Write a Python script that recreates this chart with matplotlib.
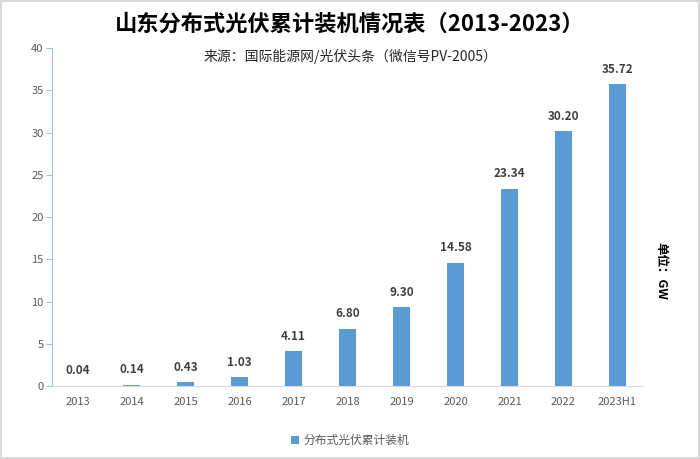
import matplotlib.pyplot as plt
from matplotlib.patches import Rectangle

plt.rcParams['font.family'] = ['Noto Sans CJK SC', 'DejaVu Sans']

# 数据
years = ['2013', '2014', '2015', '2016', '2017', '2018', '2019', '2020', '2021', '2022', '2023H1']
values = [0.04, 0.14, 0.43, 1.03, 4.11, 6.80, 9.30, 14.58, 23.34, 30.20, 35.72]
labels = ['0.04', '0.14', '0.43', '1.03', '4.11', '6.80', '9.30', '14.58', '23.34', '30.20', '35.72']

fig = plt.figure(figsize=(7, 4.59), dpi=100)
ax = fig.add_axes([0.074, 0.159, 0.845, 0.736])

bars = ax.bar(range(len(years)), values, width=0.32, color='#5B9BD5', label='分布式光伏累计装机')
for i, (v, t) in enumerate(zip(values, labels)):
    ax.text(i, max(v, 0) + 1.0, t, ha='center', va='bottom', fontsize=8.5,
            fontweight='bold', color='#404040')

ax.set_xlim(-0.48, 10.48)
ax.set_ylim(0, 40)
ax.set_yticks(range(0, 45, 5))
ax.set_xticks(range(len(years)))
ax.set_xticklabels(years)
ax.tick_params(axis='x', length=0, labelsize=8, colors='#595959', pad=8)
ax.tick_params(axis='y', length=4, labelsize=8, colors='#595959', pad=2)
ax.tick_params(axis='y', color='#9DC3E6')
for s in ['top', 'right']:
    ax.spines[s].set_visible(False)
ax.spines['left'].set_color('#9DC3E6')
ax.spines['bottom'].set_color('#D9D9D9')

fig.text(0.5, 0.948, '山东分布式光伏累计装机情况表（2013-2023）', ha='center', va='center',
         fontsize=16, fontweight='bold', color='black')
fig.text(0.5, 0.877, '来源：国际能源网/光伏头条（微信号PV-2005）', ha='center', va='center',
         fontsize=10, color='#262626')
fig.text(0.944, 0.41, '单位：GW', ha='center', va='center', rotation=270,
         fontsize=9, fontweight='bold', color='black')

fig.legend(handles=[bars], loc='center', bbox_to_anchor=(0.5, 0.04), frameon=False,
           fontsize=8.5, handlelength=0.7, handleheight=0.7, handletextpad=0.3,
           labelcolor='#595959')

fig.patches.append(Rectangle((0.002, 0.002), 0.996, 0.996, transform=fig.transFigure,
                             fill=False, edgecolor='#D9D9D9', linewidth=1.5))

fig.savefig('out.png', dpi=100)
